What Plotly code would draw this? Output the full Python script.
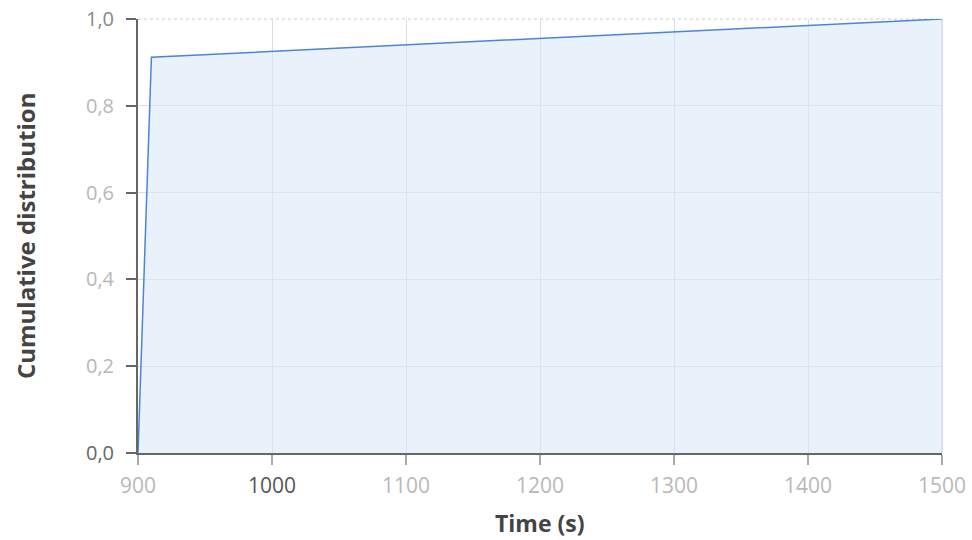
import plotly.graph_objects as go

time_s = [900, 910, 1500]
cumulative = [0.0, 0.912, 1.0]

x_ticks = [900, 1000, 1100, 1200, 1300, 1400, 1500]
x_tick_labels = ["900", "<span style='color:#555555'>1000</span>", "1100", "1200", "1300", "1400", "1500"]
y_ticks = [0.0, 0.2, 0.4, 0.6, 0.8, 1.0]
y_tick_labels = ["<span style='color:#666666'>0,0</span>", "0,2", "0,4", "0,6", "0,8", "<span style='color:#888888'>1,0</span>"]

fig = go.Figure()
fig.add_trace(go.Scatter(
    x=time_s, y=cumulative, mode="lines",
    line=dict(color="#4a86d8", width=1.5),
    fill="tozeroy", fillcolor="rgba(218,231,247,0.6)",
    hoverinfo="skip", showlegend=False,
))

font_family = "Open Sans, Noto Sans, sans-serif"
fig.update_layout(
    width=972, height=540,
    margin=dict(l=138, r=30, t=19, b=87),
    paper_bgcolor="white", plot_bgcolor="white",
    font=dict(family=font_family, size=20, color="#b8b8b8"),
    separators=",.",
    xaxis=dict(
        range=[900, 1500], tickvals=x_ticks, ticktext=x_tick_labels,
        showgrid=True, gridcolor="#dcdce4", gridwidth=1,
        showline=True, linecolor="#666666", linewidth=2,
        ticks="outside", ticklen=10, tickcolor="#aaaaaa", tickwidth=2,
        zeroline=False, automargin=False, ticklabelstandoff=3,
        tickfont=dict(size=21, color="#b8b8b8"),
    ),
    yaxis=dict(
        range=[0, 1.0], tickvals=y_ticks, ticktext=y_tick_labels,
        showgrid=True, gridcolor="#dcdce4", gridwidth=1,
        showline=True, linecolor="#666666", linewidth=2,
        ticks="outside", ticklen=10, tickcolor="#666666", tickwidth=2,
        zeroline=False, automargin=False, ticklabelstandoff=8,
        tickfont=dict(size=20, color="#b8b8b8"),
    ),
    shapes=[
        dict(type="line", xref="paper", yref="paper", x0=0, x1=1, y0=1, y1=1,
             line=dict(color="#cccccc", width=1, dash="dot"), layer="below"),
        dict(type="line", xref="paper", yref="paper", x0=1, x1=1, y0=0, y1=1,
             line=dict(color="#d0d0d8", width=1.5), layer="below"),
    ],
    annotations=[
        dict(text="<b>Time (s)</b>", xref="paper", yref="paper",
             x=0.5, y=-0.162, xanchor="center", yanchor="middle", showarrow=False,
             font=dict(size=23, color="#444444", family=font_family)),
        dict(text="<b>Cumulative distribution</b>", xref="paper", yref="paper",
             x=-0.1405, y=0.5, xanchor="center", yanchor="middle", showarrow=False,
             textangle=-90, font=dict(size=24, color="#444444", family=font_family)),
    ],
)

fig.write_html(
    "out.html",
    config={"displayModeBar": False},
    post_script="document.body.style.margin='0';document.body.style.padding='0';",
)
